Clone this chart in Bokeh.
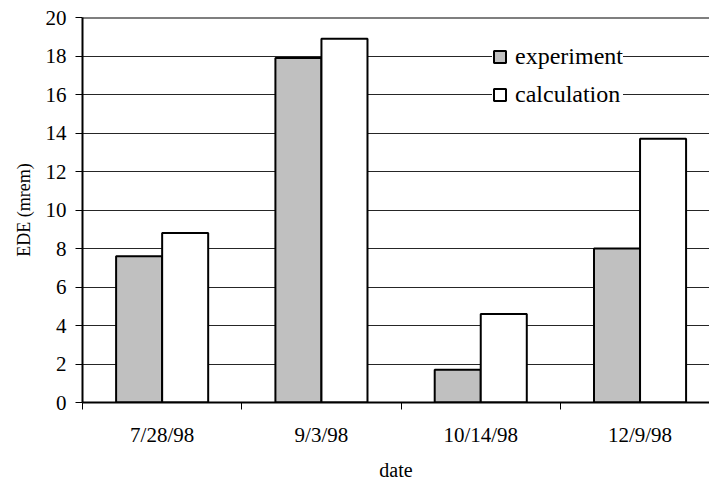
from bokeh.plotting import figure
from bokeh.models import ColumnDataSource, FixedTicker, Span, Legend, LegendItem, Range1d
from bokeh.transform import dodge
from bokeh.embed import file_html
from bokeh.resources import INLINE

dates = ["7/28/98", "9/3/98", "10/14/98", "12/9/98"]
experiment = [7.6, 17.9, 1.7, 8.0]
calculation = [8.8, 18.9, 4.6, 13.7]
y_ticks = [0, 2, 4, 6, 8, 10, 12, 14, 16, 18, 20]

FONT = "Liberation Serif"
centers = [i + 0.5 for i in range(len(dates))]
bw = 0.289

src = ColumnDataSource(dict(x=centers, exp=experiment, calc=calculation))

p = figure(width=709, height=483, output_backend="svg", toolbar_location=None,
           x_range=Range1d(0, 3.936), y_range=Range1d(0, 20),
           min_border_left=82, min_border_right=0, min_border_top=17, min_border_bottom=80)
p.outline_line_color = None
p.background_fill_color = "white"
p.border_fill_color = "white"

r1 = p.vbar(x=dodge("x", -bw / 2, range=p.x_range), top="exp", width=bw, source=src,
            fill_color="#c0c0c0", line_color="black", line_width=2)
r2 = p.vbar(x=dodge("x", bw / 2, range=p.x_range), top="calc", width=bw, source=src,
            fill_color="white", line_color="black", line_width=2)

# grid
p.xgrid.visible = False
p.ygrid.ticker = FixedTicker(ticks=y_ticks)
p.ygrid.grid_line_color = "black"
p.ygrid.grid_line_width = 1
p.ygrid.grid_line_alpha = 0.85

# top border
p.add_layout(Span(location=20, dimension="width", line_color="black", line_width=2))

# y axis
ya = p.yaxis[0]
ya.ticker = FixedTicker(ticks=y_ticks)
ya.axis_line_width = 2
ya.axis_line_color = "black"
ya.major_tick_out = 7
ya.major_tick_in = 0
ya.minor_tick_out = 0
ya.minor_tick_in = 0
ya.major_label_text_font = FONT
ya.major_label_text_font_size = "21px"
ya.major_label_text_color = "black"
ya.major_label_standoff = 9
ya.axis_label = "EDE (mrem)"
ya.axis_label_text_font = FONT
ya.axis_label_text_font_size = "18px"
ya.axis_label_text_font_style = "normal"
ya.axis_label_text_color = "black"
ya.axis_label_standoff = 9

# x axis
xa = p.xaxis[0]
xa.ticker = FixedTicker(ticks=centers, minor_ticks=[0, 1, 2, 3])
xa.major_label_overrides = {c: d for c, d in zip(centers, dates)}
xa.axis_line_width = 2
xa.axis_line_color = "black"
xa.major_tick_out = 0
xa.major_tick_in = 0
xa.minor_tick_out = 7
xa.minor_tick_in = 0
xa.minor_tick_line_color = "black"
xa.major_label_text_font = FONT
xa.major_label_text_font_size = "21px"
xa.major_label_text_color = "black"
xa.major_label_standoff = 13
xa.axis_label = "date"
xa.axis_label_text_font = FONT
xa.axis_label_text_font_size = "20px"
xa.axis_label_text_font_style = "normal"
xa.axis_label_text_color = "black"
xa.axis_label_standoff = 9

legend = Legend(items=[LegendItem(label="experiment", renderers=[r1]),
                       LegendItem(label="calculation", renderers=[r2])],
                location=(410, 294))
legend.background_fill_color = "white"
legend.background_fill_alpha = 1
legend.border_line_color = None
legend.label_text_font = FONT
legend.label_text_font_size = "24px"
legend.label_text_color = "black"
legend.glyph_width = 15
legend.glyph_height = 15
legend.label_standoff = 8
legend.spacing = 11
legend.padding = 13
legend.margin = 0
p.add_layout(legend)

open("out.html", "w").write(file_html(p, INLINE))
